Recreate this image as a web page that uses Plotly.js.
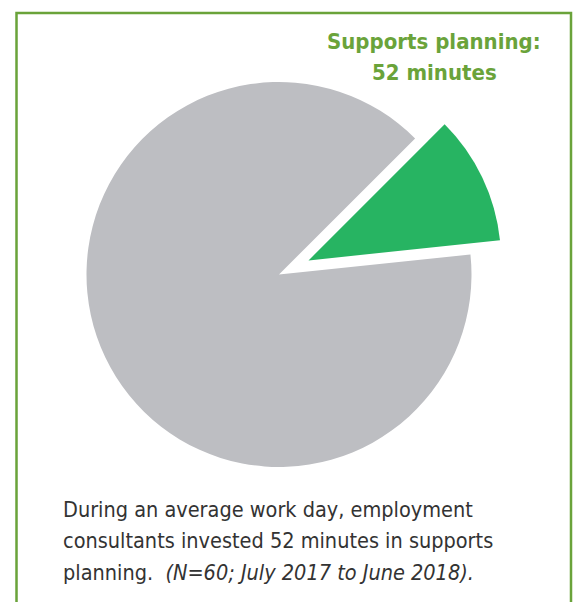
<!DOCTYPE html>
<html>
<head>
<meta charset="utf-8">
<script src="https://cdn.plot.ly/plotly-3.0.1.min.js"></script>
<style>html,body{margin:0;padding:0;background:#fff;}#chart{width:574px;height:602px;}</style>
</head>
<body>
<div id="chart"></div>
<script>
const labels = ["Supports planning", "Other work"];
const minutes = [52, 428];
const colors = ["#27b462", "#bdbec2"];
const pulls = [0.17, 0];
const titleLines = ["<b>Supports planning:</b>", "<b>52 minutes</b>"];
const bodyLines = [
  "During an average work day, employment",
  "consultants invested 52 minutes in supports",
  "planning.  <i>(N=60; July 2017 to June 2018).</i>"
];

const W = 574, H = 602;
const cx = 279, cy = 274.5, r = 192.5;
const half = r * (1 + Math.max(...pulls));
const domX = [(cx - half) / W, (cx + half) / W];
const domY = [(H - cy - half) / H, (H - cy + half) / H];
const FONT = "Liberation Sans Narrow, DejaVu Sans Condensed, sans-serif";

const trace = {
  type: "pie",
  labels: labels,
  values: minutes,
  sort: false,
  direction: "clockwise",
  rotation: 45,
  pull: pulls,
  marker: {colors: colors, line: {width: 0}},
  textinfo: "none",
  hoverinfo: "label+value",
  showlegend: false,
  domain: {x: domX, y: domY}
};

const annotations = [];
const titleY = [41, 73];
titleLines.forEach((t, i) => annotations.push({
  xref: "paper", yref: "paper", x: 434 / W, y: 1 - titleY[i] / H,
  xanchor: "center", yanchor: "middle", showarrow: false,
  text: t, font: {family: FONT, size: 22, color: "#6aa33a"}
}));
const bodyY = [509, 540.5, 572];
bodyLines.forEach((t, i) => annotations.push({
  xref: "paper", yref: "paper", x: 61 / W, y: 1 - bodyY[i] / H,
  xanchor: "left", yanchor: "middle", showarrow: false, align: "left",
  text: t, font: {family: FONT, size: 21.5, color: "#333333"}
}));

const layout = {
  width: W, height: H,
  margin: {l: 0, r: 0, t: 0, b: 0},
  paper_bgcolor: "#ffffff",
  showlegend: false,
  shapes: [{
    type: "rect", xref: "paper", yref: "paper",
    x0: 16.5 / W, x1: 571 / W, y0: -0.05, y1: 1 - 13 / H,
    line: {color: "#6aa33a", width: 2.5}, fillcolor: "rgba(0,0,0,0)"
  }],
  annotations: annotations
};

Plotly.newPlot("chart", [trace], layout, {displayModeBar: false, staticPlot: true});
</script>
</body>
</html>
